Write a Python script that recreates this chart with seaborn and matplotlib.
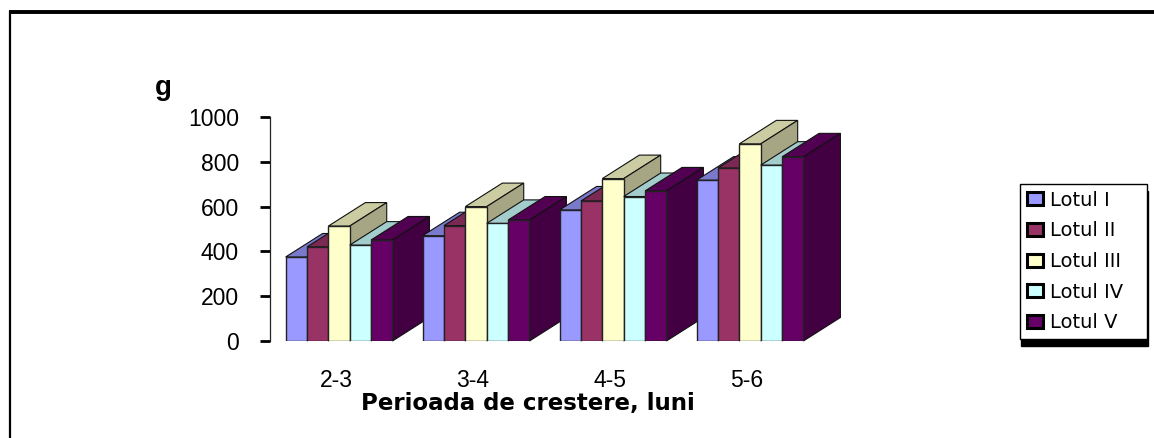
import pandas as pd
import seaborn as sns
import matplotlib.pyplot as plt
from matplotlib.colors import to_rgb
from matplotlib.lines import Line2D
from matplotlib.patches import Polygon
from matplotlib.transforms import ScaledTranslation

periods = ["2-3", "3-4", "4-5", "5-6"]
lots = ["Lotul I", "Lotul II", "Lotul III", "Lotul IV", "Lotul V"]
colors = ["#9999FF", "#993366", "#FFFFCC", "#CCFFFF", "#660066"]

lot1 = [375, 470, 585, 718]
lot2 = [420, 515, 625, 772]
lot3 = [513, 600, 725, 880]
lot4 = [428, 525, 645, 785]
lot5 = [451, 540, 670, 822]

rows = []
for lot, vals in zip(lots, [lot1, lot2, lot3, lot4, lot5]):
    for p, v in zip(periods, vals):
        rows.append({"period": p, "lot": lot, "value": v})
data = pd.DataFrame(rows)

sns.set_style("white")
plt.rcParams["font.family"] = ["Liberation Sans", "DejaVu Sans"]

W, H = 1154, 438
fig = plt.figure(figsize=(W / 100, H / 100), dpi=100)
# axes placed in pixels: y axis at x=270, 0 at y=341, 1000 at y=117
ax = fig.add_axes([270 / W, 1 - 341 / H, 570 / W, 224 / H])

sns.barplot(data=data, x="period", y="value", hue="lot", hue_order=lots,
            palette=colors, width=0.78, saturation=1, gap=0,
            edgecolor="#222222", linewidth=1, ax=ax)

ax.set_xlim(-0.504, 3.657)
ax.set_ylim(0, 1000)
ax.set_yticks([0, 200, 400, 600, 800, 1000])

# 3D look: each bar gets a top and a side face, depth in data units
depth_x = 37 / 137
depth_y = 23.5 / 224 * 1000


def shade(color, k):
    return tuple(c * k for c in to_rgb(color))


for i, cont in enumerate(ax.containers):
    for g, bar in enumerate(cont):
        x0, w, h = bar.get_x(), bar.get_width(), bar.get_height()
        z = 10 + g * 20 + i * 3
        top = [(x0, h), (x0 + depth_x, h + depth_y),
               (x0 + w + depth_x, h + depth_y), (x0 + w, h)]
        side = [(x0 + w, 0), (x0 + w + depth_x, depth_y),
                (x0 + w + depth_x, h + depth_y), (x0 + w, h)]
        ax.add_patch(Polygon(top, closed=True, facecolor=shade(colors[i], 0.8),
                             edgecolor="#111111", linewidth=0.8, zorder=z, clip_on=False))
        ax.add_patch(Polygon(side, closed=True, facecolor=shade(colors[i], 0.65),
                             edgecolor="#111111", linewidth=0.8, zorder=z + 1, clip_on=False))
        bar.set_zorder(z + 2)

sns.despine(ax=ax, bottom=True)
ax.spines["left"].set_color("#222222")
ax.spines["left"].set_linewidth(0.9)

ax.tick_params(axis="y", left=True, length=7.5, width=2, color="black",
               pad=15, labelsize=16.5, labelcolor="black")
ax.tick_params(axis="x", bottom=False, pad=16.5, labelsize=16.5, labelcolor="black")
# category labels sit a little left of the bar group centres
for t in ax.get_xticklabels():
    t.set_transform(t.get_transform() + ScaledTranslation(-3 / 100, 0, fig.dpi_scale_trans))

ax.set_xlabel("Perioada de crestere, luni", fontsize=16.5, fontweight="bold",
              family="DejaVu Sans", color="black", labelpad=0, x=(528 - 270) / 570)
ax.set_ylabel("")

fig.text(155 / W, 1 - 95 / H, "g", fontsize=20, fontweight="bold", color="black")

# legend box with hard shadow under it, width fixed through mode="expand"
leg = ax.legend(loc="upper left", mode="expand",
                bbox_to_anchor=(1020 / W, 1 - 337 / H, 127 / W, 153 / H),
                bbox_transform=fig.transFigure, frameon=True, fancybox=False,
                edgecolor="black", framealpha=1,
                prop={"family": "DejaVu Sans", "size": 14},
                handlelength=0.85, handleheight=0.65, handletextpad=0.35,
                labelspacing=0.6, borderpad=0.35, borderaxespad=0,
                shadow={"color": "black", "alpha": 1, "ox": 1, "oy": -5})
leg.set_zorder(200)
leg.get_frame().set_linewidth(1)
for h in leg.get_patches():
    h.set_edgecolor("black")
    h.set_linewidth(2.2)
for t in leg.get_texts():
    t.set_color("black")

# outer frame of the picture: top and left edges only
fig.add_artist(Line2D([9 / W, 1], [1 - 12 / H, 1 - 12 / H], color="black", lw=2.8,
                      solid_capstyle="butt"))
fig.add_artist(Line2D([10 / W, 10 / W], [1 - 11 / H, 0], color="black", lw=1.6,
                      solid_capstyle="butt"))

fig.savefig("out.png", dpi=100, facecolor="white")
